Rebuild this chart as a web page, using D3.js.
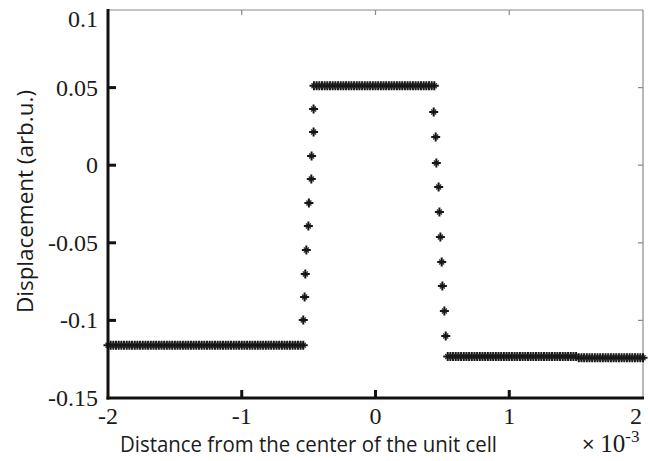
<!DOCTYPE html>
<html><head><meta charset="utf-8">
<script src="https://cdn.jsdelivr.net/npm/d3@7"></script>
<style>body{margin:0;background:#fff}svg{display:block}
.serif{font-family:"Liberation Serif","Times New Roman",Times,"DejaVu Serif",serif}
.sans{font-family:"Open Sans","Liberation Sans",Arial,sans-serif}
</style>
</head><body>
<svg id="c" width="648" height="461"></svg>
<script>
// ---- data (x in units of 1e-3) ----
const xTicks = [-2, -1, 0, 1, 2];
const xTickLabels = ["-2", "-1", "0", "1", "2"];
const yTicks = [0.1, 0.05, 0, -0.05, -0.1, -0.15];
const yTickLabels = ["0.1", "0.05", "0", "-0.05", "-0.1", "-0.15"];

const leftPlateauX = [-2.00,-1.98,-1.96,-1.94,-1.92,-1.90,-1.88,-1.86,-1.84,-1.82,-1.80,-1.78,-1.76,-1.74,-1.72,-1.70,-1.68,-1.66,-1.64,-1.62,-1.60,-1.58,-1.56,-1.54,-1.52,-1.50,-1.48,-1.46,-1.44,-1.42,-1.40,-1.38,-1.36,-1.34,-1.32,-1.30,-1.28,-1.26,-1.24,-1.22,-1.20,-1.18,-1.16,-1.14,-1.12,-1.10,-1.08,-1.06,-1.04,-1.02,-1.00,-0.98,-0.96,-0.94,-0.92,-0.90,-0.88,-0.86,-0.84,-0.82,-0.80,-0.78,-0.76,-0.74,-0.72,-0.70,-0.68,-0.66,-0.64,-0.62,-0.60,-0.58,-0.56,-0.54];
const leftPlateauY = -0.116;

const riseX = [-0.540,-0.530,-0.525,-0.517,-0.502,-0.498,-0.480,-0.478,-0.463,-0.463];
const riseY = [-0.0997,-0.0849,-0.0701,-0.0546,-0.0392,-0.0244,-0.0089,0.0059,0.0214,0.0362];

const topPlateauX = [-0.46,-0.44,-0.42,-0.40,-0.38,-0.36,-0.34,-0.32,-0.30,-0.28,-0.26,-0.24,-0.22,-0.20,-0.18,-0.16,-0.14,-0.12,-0.10,-0.08,-0.06,-0.04,-0.02,0.00,0.02,0.04,0.06,0.08,0.10,0.12,0.14,0.16,0.18,0.20,0.22,0.24,0.26,0.28,0.30,0.32,0.34,0.36,0.38,0.40,0.42,0.44];
const topPlateauY = 0.0512;

const fallX = [0.435,0.450,0.455,0.472,0.478,0.485,0.495,0.500,0.515,0.525];
const fallY = [0.0343,0.0182,0.0014,-0.0140,-0.0302,-0.0463,-0.0624,-0.0778,-0.0939,-0.1100];

const rightPlateauAX = [0.54,0.56,0.58,0.60,0.62,0.64,0.66,0.68,0.70,0.72,0.74,0.76,0.78,0.80,0.82,0.84,0.86,0.88,0.90,0.92,0.94,0.96,0.98,1.00,1.02,1.04,1.06,1.08,1.10,1.12,1.14,1.16,1.18,1.20,1.22,1.24,1.26,1.28,1.30,1.32,1.34,1.36,1.38,1.40,1.42,1.44,1.46,1.48,1.50];
const rightPlateauAY = -0.1232;
const rightPlateauBX = [1.52,1.54,1.56,1.58,1.60,1.62,1.64,1.66,1.68,1.70,1.72,1.74,1.76,1.78,1.80,1.82,1.84,1.86,1.88,1.90,1.92,1.94,1.96,1.98,2.00];
const rightPlateauBY = -0.1241;

// ---- assemble points ----
const pts = [];
leftPlateauX.forEach(x => pts.push([x, leftPlateauY]));
riseX.forEach((x, i) => pts.push([x, riseY[i]]));
topPlateauX.forEach(x => pts.push([x, topPlateauY]));
fallX.forEach((x, i) => pts.push([x, fallY[i]]));
rightPlateauAX.forEach(x => pts.push([x, rightPlateauAY]));
rightPlateauBX.forEach(x => pts.push([x, rightPlateauBY]));

// ---- layout ----
const L = 108, R = 643, T = 10, B = 398;
const x = d3.scaleLinear().domain([-2, 2]).range([L, R]);
const y = d3.scaleLinear().domain([-0.15, 0.1]).range([B, T]);
const svg = d3.select("#c");

// thin top/right box lines
svg.append("line").attr("x1", L).attr("x2", R).attr("y1", T).attr("y2", T)
  .attr("stroke", "#8a8a8a").attr("stroke-width", 1.2);
svg.append("line").attr("x1", R).attr("x2", R).attr("y1", T).attr("y2", B)
  .attr("stroke", "#8a8a8a").attr("stroke-width", 1.2);
svg.selectAll(".rt").data(yTicks.slice(1, -1)).enter().append("line")
  .attr("x1", R).attr("x2", R - 5).attr("y1", d => y(d)).attr("y2", d => y(d))
  .attr("stroke", "#8a8a8a").attr("stroke-width", 1.2);
svg.selectAll(".tt").data(xTicks.slice(1, -1)).enter().append("line")
  .attr("x1", d => x(d)).attr("x2", d => x(d)).attr("y1", T).attr("y2", T + 5)
  .attr("stroke", "#8a8a8a").attr("stroke-width", 1.2);

// markers
const g = svg.append("g");
const star = "M-4.5,0L4.5,0M0,-4.5L0,4.5";
const diag = "M-2.5,-2.5L2.5,2.5M-2.5,2.5L2.5,-2.5";
pts.forEach(([px, py]) => {
  const gg = g.append("g").attr("transform", `translate(${x(px)},${y(py)})`);
  gg.append("path").attr("d", diag).attr("stroke", "#333").attr("stroke-width", 1.4).attr("fill", "none");
  gg.append("path").attr("d", star).attr("stroke", "#161616").attr("stroke-width", 2).attr("fill", "none");
});

// left axis
svg.append("line").attr("x1", L).attr("x2", L).attr("y1", T - 1).attr("y2", B + 1.5)
  .attr("stroke", "#111").attr("stroke-width", 3);
svg.selectAll(".lt").data(yTicks.slice(1, -1)).enter().append("line")
  .attr("x1", L).attr("x2", L + 8).attr("y1", d => y(d)).attr("y2", d => y(d))
  .attr("stroke", "#111").attr("stroke-width", 3);
// bottom axis
svg.append("line").attr("x1", L - 1.5).attr("x2", R + 1).attr("y1", B).attr("y2", B)
  .attr("stroke", "#111").attr("stroke-width", 3);
svg.selectAll(".bt").data(xTicks.slice(1, -1)).enter().append("line")
  .attr("x1", d => x(d)).attr("x2", d => x(d)).attr("y1", B).attr("y2", B - 8)
  .attr("stroke", "#111").attr("stroke-width", 3);

// y tick labels
svg.selectAll(".yl").data(yTicks).enter().append("text").attr("class", "serif")
  .attr("x", 98).attr("y", (d, i) => i === 0 ? y(d) + 17 : y(d) + 8)
  .attr("text-anchor", "end").style("font-size", "24px")
  .attr("fill", "#1a1a1a").text((d, i) => yTickLabels[i]);
// x tick labels
svg.selectAll(".xl").data(xTicks).enter().append("text").attr("class", "serif")
  .attr("x", (d, i) => i === 4 ? x(d) - 7 : x(d)).attr("y", 424)
  .attr("text-anchor", "middle").style("font-size", "24px")
  .attr("fill", "#1a1a1a").text((d, i) => xTickLabels[i]);

// axis titles
svg.append("text").attr("class", "sans").attr("x", 120).attr("y", 452)
  .style("font-size", "22px").attr("fill", "#1a1a1a")
  .attr("textLength", 377).attr("lengthAdjust", "spacingAndGlyphs")
  .text("Distance from the center of the unit cell");
svg.append("text").attr("class", "sans").attr("transform", "translate(33,313) rotate(-90)")
  .style("font-size", "22px").attr("fill", "#1a1a1a")
  .attr("textLength", 223).attr("lengthAdjust", "spacingAndGlyphs")
  .text("Displacement (arb.u.)");
// exponent
const ex = svg.append("text").attr("x", 582).attr("y", 452).attr("fill", "#1a1a1a");
ex.append("tspan").attr("class", "sans").style("font-size", "22px").text("× ");
ex.append("tspan").attr("class", "serif").style("font-size", "25px").text("10");
ex.append("tspan").attr("class", "serif").style("font-size", "17px").attr("dy", -10).text("-3");
</script>
</body></html>
